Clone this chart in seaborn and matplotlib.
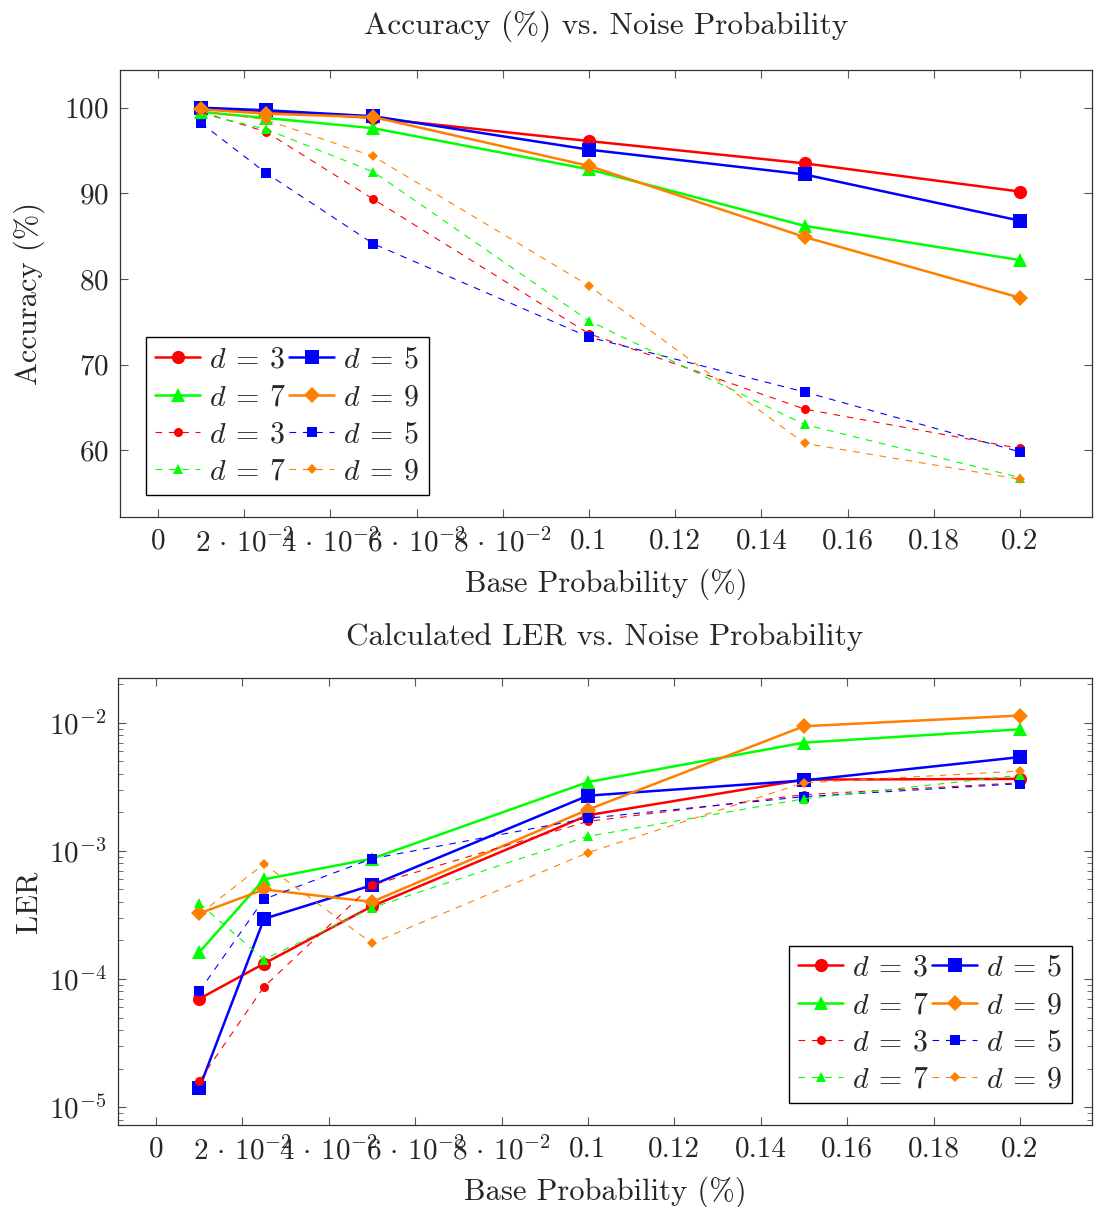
import pandas as pd
import matplotlib
matplotlib.use('Agg')
import matplotlib.pyplot as plt
import seaborn as sns

# base noise probabilities
probs = [0.01, 0.025, 0.05, 0.1, 0.15, 0.2]
distances = [3, 5, 7, 9]

# accuracy (%) - solid series
acc_solid_d3 = [99.9, 99.6, 98.8, 96.1, 93.5, 90.2]
acc_solid_d5 = [100.0, 99.7, 99.0, 95.1, 92.2, 86.8]
acc_solid_d7 = [99.5, 98.8, 97.6, 92.8, 86.2, 82.2]
acc_solid_d9 = [99.8, 99.3, 98.9, 93.2, 84.9, 77.8]
# accuracy (%) - dashed series
acc_dash_d3 = [99.5, 97.2, 89.3, 73.6, 64.8, 60.2]
acc_dash_d5 = [98.2, 92.4, 84.1, 73.2, 66.8, 59.8]
acc_dash_d7 = [99.3, 97.5, 92.5, 75.1, 63.0, 56.8]
acc_dash_d9 = [99.6, 98.6, 94.3, 79.2, 60.8, 56.6]

# logical error rate - solid series
ler_solid_d3 = [7.0e-5, 1.32e-4, 3.7e-4, 1.9e-3, 3.6e-3, 3.65e-3]
ler_solid_d5 = [1.4e-5, 2.95e-4, 5.4e-4, 2.7e-3, 3.55e-3, 5.4e-3]
ler_solid_d7 = [1.62e-4, 6.0e-4, 8.7e-4, 3.45e-3, 7.0e-3, 8.9e-3]
ler_solid_d9 = [3.25e-4, 5.0e-4, 4.0e-4, 2.1e-3, 9.4e-3, 1.14e-2]
# logical error rate - dashed series
ler_dash_d3 = [1.6e-5, 8.7e-5, 5.4e-4, 1.7e-3, 2.75e-3, 3.4e-3]
ler_dash_d5 = [8.0e-5, 4.2e-4, 8.7e-4, 1.8e-3, 2.65e-3, 3.35e-3]
ler_dash_d7 = [3.9e-4, 1.42e-4, 3.6e-4, 1.3e-3, 2.55e-3, 3.9e-3]
ler_dash_d9 = [3.2e-4, 7.9e-4, 1.9e-4, 9.7e-4, 3.4e-3, 4.2e-3]

acc = {('solid', 3): acc_solid_d3, ('solid', 5): acc_solid_d5,
       ('solid', 7): acc_solid_d7, ('solid', 9): acc_solid_d9,
       ('dashed', 3): acc_dash_d3, ('dashed', 5): acc_dash_d5,
       ('dashed', 7): acc_dash_d7, ('dashed', 9): acc_dash_d9}
ler = {('solid', 3): ler_solid_d3, ('solid', 5): ler_solid_d5,
       ('solid', 7): ler_solid_d7, ('solid', 9): ler_solid_d9,
       ('dashed', 3): ler_dash_d3, ('dashed', 5): ler_dash_d5,
       ('dashed', 7): ler_dash_d7, ('dashed', 9): ler_dash_d9}

rows = []
for (kind, d), vals in acc.items():
    for p, a, l in zip(probs, vals, ler[(kind, d)]):
        rows.append({'p': p, 'kind': kind, 'd': d, 'acc': a, 'ler': l})
df = pd.DataFrame(rows)

colors = {3: '#ff0000', 5: '#0000ff', 7: '#00ff00', 9: '#ff8000'}
markers = {3: 'o', 5: 's', 7: '^', 9: 'D'}

sns.set_style('ticks')
plt.rcParams['font.family'] = 'serif'
plt.rcParams['font.serif'] = ['cmr10']
plt.rcParams['mathtext.fontset'] = 'cm'
plt.rcParams['axes.formatter.use_mathtext'] = True
plt.rcParams['axes.unicode_minus'] = False

fig = plt.figure(figsize=(10.94, 12.07), dpi=100)
ax1 = fig.add_axes([0.1097, 0.5717, 0.8885, 0.3703])
ax2 = fig.add_axes([0.1079, 0.0679, 0.8903, 0.3704])


def draw(ax, col):
    handles = {}
    for kind in ['solid', 'dashed']:
        for d in distances:
            sub = df[(df.kind == kind) & (df.d == d)]
            solid = kind == 'solid'
            sns.lineplot(data=sub, x='p', y=col, ax=ax, color=colors[d],
                         marker=markers[d],
                         markersize=(9.5 if solid else 6.5) * (0.85 if d == 9 else 1),
                         markeredgewidth=0, linewidth=1.8 if solid else 0.8,
                         linestyle='-' if solid else (0, (6, 6)),
                         sort=False, estimator=None)
            handles[(kind, d)] = ax.get_lines()[-1]
    # pgfplots fills legend rows first; matplotlib fills columns
    order = [('solid', 3), ('solid', 7), ('dashed', 3), ('dashed', 7),
             ('solid', 5), ('solid', 9), ('dashed', 5), ('dashed', 9)]
    labels = [r'$d\:=\:%d$' % k[1] for k in order]
    return [handles[k] for k in order], labels


xt = [0, 0.02, 0.04, 0.06, 0.08, 0.1, 0.12, 0.14, 0.16, 0.18, 0.2]
xtl = ['0', r'$2\,\cdot\,10^{-2}$', r'$4\,\cdot\,10^{-2}$', r'$6\,\cdot\,10^{-2}$',
       r'$8\,\cdot\,10^{-2}$', '0.1', '0.12', '0.14', '0.16', '0.18', '0.2']

for ax in (ax1, ax2):
    ax.set_xlim(-0.0088, 0.2167)
    ax.set_xticks(xt)
    ax.set_xticklabels(xtl)
    ax.tick_params(which='both', direction='in', top=True, right=True,
                   labelsize=21, pad=8, color='#555555')
    ax.tick_params(which='major', length=6, width=0.8)
    ax.tick_params(which='minor', length=3.5, width=0.6)
    for s in ax.spines.values():
        s.set_linewidth(0.9)
        s.set_color('#333333')
    ax.set_xlabel('Base Probability (%)', fontsize=22, labelpad=8)

legend_kw = dict(ncol=2, fontsize=21.5, frameon=True, fancybox=False,
                 edgecolor='black', framealpha=1, handlelength=1.5,
                 handletextpad=0.3, columnspacing=0.1, labelspacing=0.33,
                 borderpad=0.3, borderaxespad=0)

h1, l1 = draw(ax1, 'acc')
ax1.set_ylim(52.2, 104.4)
ax1.set_yticks([60, 70, 80, 90, 100])
ax1.set_ylabel('Accuracy (%)', fontsize=22, labelpad=14)
ax1.set_title('Accuracy (%) vs. Noise Probability', fontsize=22.5, pad=26)
ax1.legend(h1, l1, loc='lower left', bbox_to_anchor=(0.027, 0.05), **legend_kw)

h2, l2 = draw(ax2, 'ler')
ax2.set_yscale('log')
ax2.set_ylim(10 ** -5.14, 10 ** -1.65)
ax2.set_ylabel('LER', fontsize=22, labelpad=5)
ax2.set_title('Calculated LER vs. Noise Probability', fontsize=22.5, pad=24)
ax2.legend(h2, l2, loc='lower right', bbox_to_anchor=(0.979, 0.05), **legend_kw)

fig.savefig('out.png', dpi=100)
